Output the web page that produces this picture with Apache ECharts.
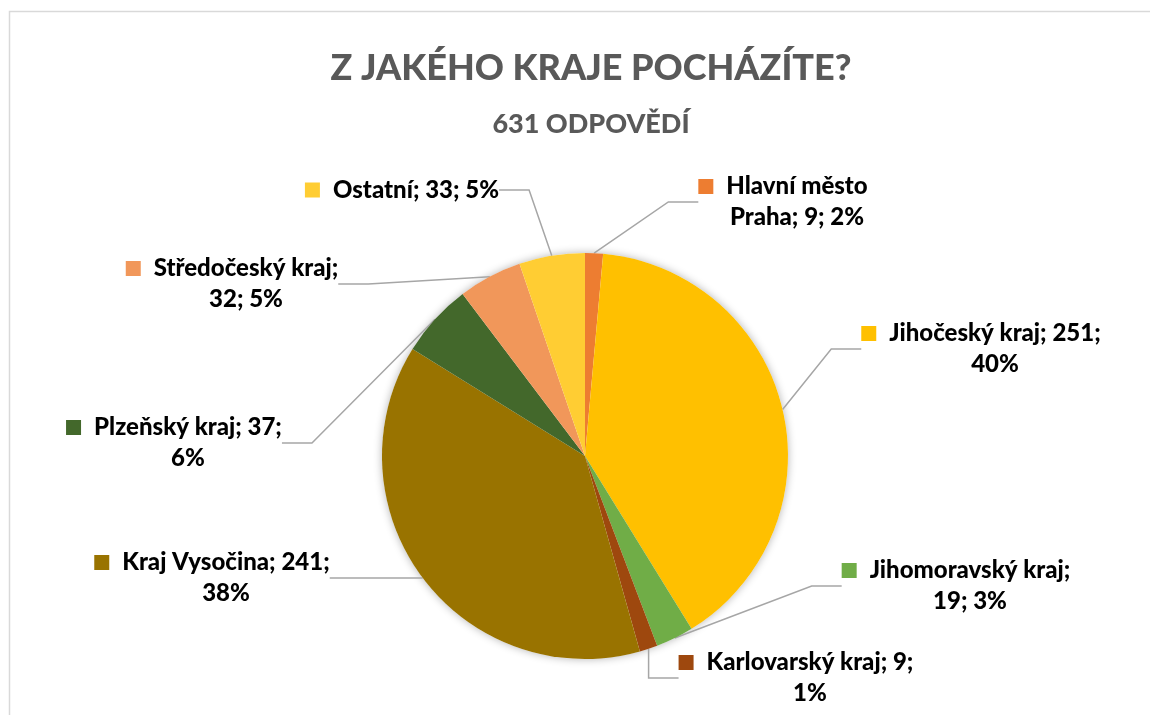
<!DOCTYPE html>
<html>
<head>
<meta charset="utf-8">
<script src="https://cdn.jsdelivr.net/npm/echarts@6/dist/echarts.min.js"></script>
<style>
  html, body { margin: 0; padding: 0; background: #fff; }
  #chart { width: 1150px; height: 715px; }
</style>
</head>
<body>
<div id="chart"></div>
<script>
const regions = ['Hlavní město Praha', 'Jihočeský kraj', 'Jihomoravský kraj', 'Karlovarský kraj',
  'Kraj Vysočina', 'Plzeňský kraj', 'Středočeský kraj', 'Ostatní'];
const counts = [9, 251, 19, 9, 241, 37, 32, 33];
const percents = ['2%', '40%', '3%', '1%', '38%', '6%', '5%', '5%'];
const colors = ['#ED7D31', '#FFC000', '#70AD47', '#9E480E', '#997300', '#43682B', '#F1975A', '#FFCD33'];
// how many words Excel kept on the first label line
const firstLineWords = [2, 3, 2, 3, 3, 3, 2, 3];
// label block centres (px)
const labelPos = [[783, 202], [981, 349], [956, 586], [796, 678], [212, 578], [174, 443], [232, 284], [402, 190]];

const font = 'Lato';
var myChart = echarts.init(document.getElementById('chart'));

const data = regions.map((name, i) => ({
  name,
  value: counts[i],
  itemStyle: { color: colors[i] },
  label: {
    rich: {
      key: { width: 15, height: 15, backgroundColor: colors[i] },
      pad: { width: 15, height: 15 },
      t: { fontFamily: font, fontWeight: 900, fontSize: 24, color: '#000', padding: [0, 0, 0, 13], lineHeight: 31 },
    },
  },
}));

const total = counts.reduce((a, b) => a + b, 0);

myChart.setOption({
  animation: false,
  title: {
    text: 'Z JAKÉHO KRAJE POCHÁZÍTE?',
    subtext: total + ' ODPOVĚDÍ',
    left: 586,
    textAlign: 'center',
    top: 45,
    itemGap: 25,
    textStyle: { fontFamily: font, fontWeight: 900, fontSize: 36, color: '#595959' },
    subtextStyle: { fontFamily: font, fontWeight: 900, fontSize: 27, color: '#595959' },
  },
  graphic: [{
    type: 'rect',
    shape: { x: 9.5, y: 11.5, width: 1200, height: 800 },
    style: { fill: 'none', stroke: '#D9D9D9', lineWidth: 1.5 },
    silent: true,
  }],
  series: [
    {
      // soft shadow under the whole pie
      type: 'pie',
      center: [585, 456],
      radius: 203,
      silent: true,
      z: 1,
      data: [{ value: total, itemStyle: { color: '#fff', shadowBlur: 8, shadowColor: 'rgba(0,0,0,0.3)' } }],
      label: { show: false },
      labelLine: { show: false },
    },
    {
      type: 'pie',
      center: [585, 456],
      radius: 203,
      startAngle: 90,
      clockwise: true,
      z: 2,
      data,
      label: {
        show: true,
        position: 'outside',
        align: 'center',
        formatter: p => {
          const words = `${p.name}; ${p.value}; ${percents[p.dataIndex]}`.split(' ');
          const n = firstLineWords[p.dataIndex];
          let s = '{key|}{t|' + words.slice(0, n).join(' ') + '}';
          if (n < words.length) s += '\n{pad|}{t|' + words.slice(n).join(' ') + '}';
          return s;
        },
      },
      labelLine: { show: true, lineStyle: { color: '#A6A6A6', width: 1.5 } },
      labelLayout: params => ({
        x: labelPos[params.dataIndex][0],
        y: labelPos[params.dataIndex][1],
        align: 'center',
        verticalAlign: 'middle',
      }),
      emphasis: { disabled: true },
    },
  ],
});
</script>
</body>
</html>
